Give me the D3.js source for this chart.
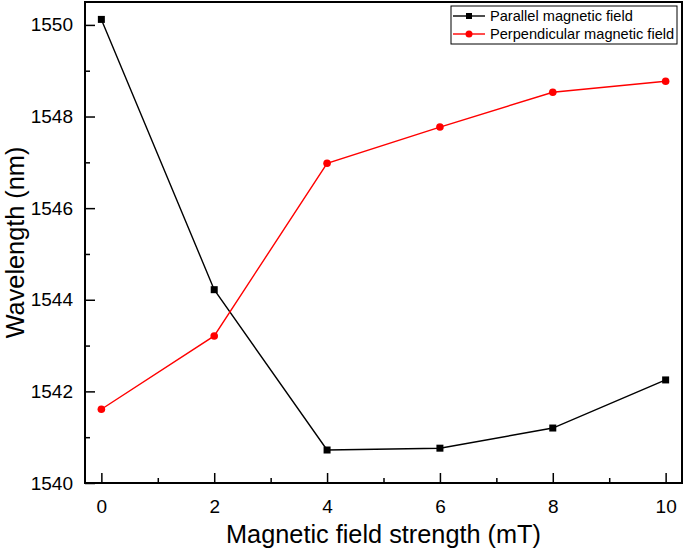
<!DOCTYPE html>
<html>
<head>
<meta charset="utf-8" />
<script src="https://d3js.org/d3.v7.min.js"></script>
<style>
body { margin: 0; background: #fff; }
svg text { font-family: Arial, "Liberation Sans", sans-serif; }
</style>
</head>
<body>
<script type="text/javascript">
// data
var fields = [0, 2, 4, 6, 8, 10];
var parallel = [1550.12, 1544.22, 1540.72, 1540.76, 1541.2, 1542.25];
var perpendicular = [1541.61, 1543.21, 1546.98, 1547.77, 1548.53, 1548.77];
var seriesNames = ["Parallel magnetic field", "Perpendicular magnetic field"];
var seriesColors = ["#000000", "#ff0000"];
var xTicks = [0, 2, 4, 6, 8, 10];
var yTicks = [1540, 1542, 1544, 1546, 1548, 1550];

var width = 685, height = 554;
var margin = {top: 2, right: 3, bottom: 71, left: 85};

var svg = d3.select("body").append("svg")
    .attr("width", width)
    .attr("height", height);

var x = d3.scaleLinear().domain([-0.29, 10.29]).range([margin.left, width - margin.right]);
var y = d3.scaleLinear().domain([1540, 1550.5]).range([height - margin.bottom, margin.top]);

// axes, ticks pointing inward
var xAxis = d3.axisBottom(x).tickValues(xTicks).tickSizeInner(-10).tickSizeOuter(0).tickPadding(17);
var xMinor = d3.axisBottom(x).tickValues(d3.range(1, 10, 2)).tickSizeInner(-5).tickSizeOuter(0).tickFormat("");
var yAxis = d3.axisLeft(y).tickValues(yTicks).tickSizeInner(-10).tickSizeOuter(0).tickPadding(12).tickFormat(d3.format("d"));
var yMinor = d3.axisLeft(y).tickValues(d3.range(1541, 1550, 2)).tickSizeInner(-5).tickSizeOuter(0).tickFormat("");

function styleAxis(g) {
  g.attr("font-family", "Arial, 'Liberation Sans', sans-serif").attr("font-size", 19);
  g.select(".domain").remove();
  g.selectAll(".tick line").attr("stroke", "#000").attr("stroke-width", 1.5);
  g.selectAll(".tick text").attr("fill", "#000");
}

svg.append("g").attr("transform", "translate(0," + (height - margin.bottom) + ")").call(xAxis).call(styleAxis);
svg.append("g").attr("transform", "translate(0," + (height - margin.bottom) + ")").call(xMinor).call(styleAxis);
svg.append("g").attr("transform", "translate(" + margin.left + ",0)").call(yAxis).call(styleAxis);
svg.append("g").attr("transform", "translate(" + margin.left + ",0)").call(yMinor).call(styleAxis);

// frame
svg.append("rect")
    .attr("x", margin.left)
    .attr("y", margin.top)
    .attr("width", width - margin.right - margin.left)
    .attr("height", height - margin.bottom - margin.top)
    .attr("fill", "none")
    .attr("stroke", "#000")
    .attr("stroke-width", 2);

var line = d3.line()
    .x(function(d) { return x(d[0]); })
    .y(function(d) { return y(d[1]); });

var series = [parallel, perpendicular];

series.forEach(function(vals, i) {
  var pts = fields.map(function(f, j) { return [f, vals[j]]; });
  svg.append("path")
      .datum(pts)
      .attr("fill", "none")
      .attr("stroke", seriesColors[i])
      .attr("stroke-width", 1.4)
      .attr("d", line);
  if (i == 0) {
    svg.selectAll(".sq")
        .data(pts)
      .enter().append("rect")
        .attr("x", function(d) { return x(d[0]) - 3.5; })
        .attr("y", function(d) { return y(d[1]) - 3.5; })
        .attr("width", 7).attr("height", 7)
        .attr("fill", seriesColors[i]);
  } else {
    svg.selectAll(".dot")
        .data(pts)
      .enter().append("circle")
        .attr("cx", function(d) { return x(d[0]); })
        .attr("cy", function(d) { return y(d[1]); })
        .attr("r", 3.8)
        .attr("fill", seriesColors[i]);
  }
});

// legend
var leg = svg.append("g").attr("transform", "translate(451,6)");
leg.append("rect")
    .attr("width", 226).attr("height", 38)
    .attr("fill", "#fff").attr("stroke", "#000").attr("stroke-width", 1);
seriesNames.forEach(function(name, i) {
  var ly = 10 + i * 18;
  leg.append("line")
      .attr("x1", 2).attr("x2", 34).attr("y1", ly).attr("y2", ly)
      .attr("stroke", seriesColors[i]).attr("stroke-width", 1.4);
  if (i == 0) {
    leg.append("rect").attr("x", 15).attr("y", ly - 3).attr("width", 6).attr("height", 6).attr("fill", seriesColors[i]);
  } else {
    leg.append("circle").attr("cx", 18).attr("cy", ly).attr("r", 3.5).attr("fill", seriesColors[i]);
  }
  leg.append("text")
      .attr("x", 39).attr("y", ly + 5)
      .style("font-size", "14.6px")
      .text(name);
});

// axis titles
svg.append("text")
    .attr("x", (margin.left + width - margin.right) / 2)
    .attr("y", 543)
    .attr("text-anchor", "middle")
    .style("font-size", "25.3px")
    .text("Magnetic field strength (mT)");

svg.append("text")
    .attr("transform", "translate(24," + ((margin.top + height - margin.bottom) / 2) + ") rotate(-90)")
    .attr("text-anchor", "middle")
    .style("font-size", "25.3px")
    .text("Wavelength (nm)");
</script>
</body>
</html>
